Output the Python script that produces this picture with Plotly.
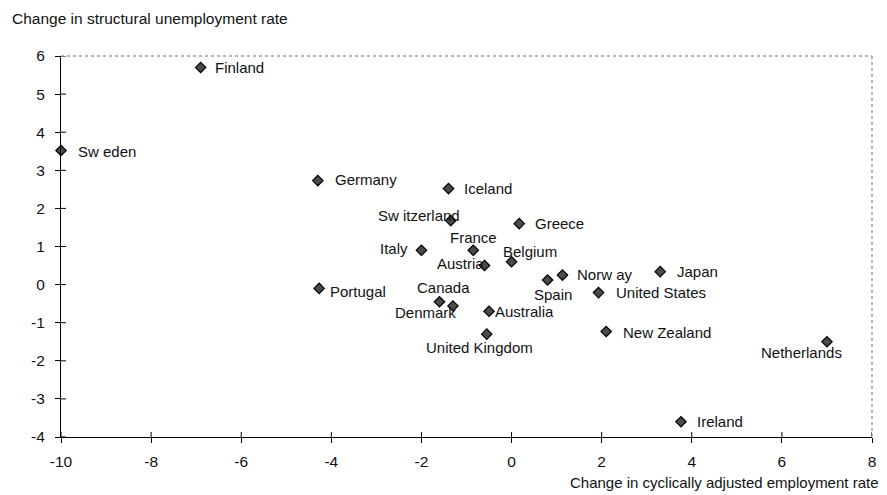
import plotly.graph_objects as go

# Change in cyclically adjusted employment rate vs change in structural unemployment rate
countries = [
    "Finland", "Sw eden", "Germany", "Iceland", "Sw itzerland", "Greece",
    "France", "Italy", "Austria", "Belgium", "Norw ay", "Spain", "Japan",
    "United States", "New Zealand", "Netherlands", "Ireland", "Portugal",
    "Canada", "Denmark", "Australia", "United Kingdom",
]
employment_change = [
    -6.9, -10.0, -4.3, -1.4, -1.35, 0.17,
    -0.85, -2.0, -0.6, 0.0, 1.13, 0.8, 3.3,
    1.93, 2.1, 7.0, 3.76, -4.27,
    -1.6, -1.3, -0.5, -0.55,
]
unemployment_change = [
    5.7, 3.52, 2.73, 2.52, 1.68, 1.6,
    0.9, 0.9, 0.5, 0.6, 0.25, 0.12, 0.34,
    -0.21, -1.23, -1.5, -3.6, -0.1,
    -0.45, -0.56, -0.7, -1.3,
]

x_ticks = list(range(-10, 9, 2))
x_tick_labels = [str(v) for v in x_ticks]
y_ticks = list(range(-4, 7, 1))
y_tick_labels = [str(v) for v in y_ticks]

X_RANGE = [-10, 8]
Y_RANGE = [-4, 6]

# label placement relative to each marker: (pixel dx, pixel dy, horizontal anchor)
label_offsets = {
    "Finland": (12, 0, "left"),
    "Sw eden": (15, -1, "left"),
    "Germany": (15, 1, "left"),
    "Iceland": (14, 0, "left"),
    "Sw itzerland": (11, 5, "right"),
    "Greece": (14, 0, "left"),
    "France": (0, 13, "center"),
    "Italy": (-11, 2, "right"),
    "Austria": (1, 2, "right"),
    "Belgium": (-11, 10, "left"),
    "Norw ay": (13, 1, "left"),
    "Spain": (5, -14, "center"),
    "Japan": (15, 0, "left"),
    "United States": (15, 0, "left"),
    "New Zealand": (15, -1, "left"),
    "Netherlands": (-25, -11, "center"),
    "Ireland": (14, 0, "left"),
    "Portugal": (9, -3, "left"),
    "Canada": (4, 14, "center"),
    "Denmark": (-27, -7, "center"),
    "Australia": (4, 0, "left"),
    "United Kingdom": (-7, -13, "center"),
}

FONT = "Liberation Sans, Arial, Helvetica, sans-serif"
INK = "#111111"
TICK_LEN = 5

fig = go.Figure()
fig.add_trace(go.Scatter(
    x=employment_change,
    y=unemployment_change,
    mode="markers",
    marker=dict(symbol="diamond", size=8, color="#4a4a4a",
                line=dict(color="#000000", width=1.2)),
    cliponaxis=False,
    hoverinfo="text",
    text=countries,
    showlegend=False,
))

annotations = []
for name, xv, yv in zip(countries, employment_change, unemployment_change):
    dx, dy, anchor = label_offsets[name]
    annotations.append(dict(
        x=xv, y=yv, xref="x", yref="y", text=name, showarrow=False,
        xanchor=anchor, yanchor="middle", xshift=dx, yshift=dy,
        font=dict(family=FONT, size=15, color=INK),
    ))

annotations.append(dict(
    x=-61 / 815, y=1 + 38 / 381, xref="paper", yref="paper", xshift=10,
    text="Change in structural unemployment rate",
    showarrow=False, xanchor="left", yanchor="middle",
    font=dict(family=FONT, size=15.5, color=INK),
))
annotations.append(dict(
    x=1.0, y=-0.115, xref="paper", yref="paper",
    text="Change in cyclically adjusted employment rate",
    showarrow=False, xanchor="right", yanchor="middle", xshift=9, yshift=-2,
    font=dict(family=FONT, size=15, color=INK),
))

# inner halves of the crossing tick marks (outer halves come from the axes)
shapes = []
for xv in x_ticks:
    shapes.append(dict(type="line", xref="x", yref="y", ysizemode="pixel",
                       yanchor=Y_RANGE[0], x0=xv, x1=xv, y0=0, y1=TICK_LEN,
                       line=dict(color="#000000", width=1)))
for yv in y_ticks:
    shapes.append(dict(type="line", xref="x", yref="y", xsizemode="pixel",
                       xanchor=X_RANGE[0], y0=yv, y1=yv, x0=0, x1=TICK_LEN,
                       line=dict(color="#000000", width=1)))
# dotted top and right frame edges
shapes.append(dict(type="line", xref="paper", yref="paper", x0=0, x1=1,
                   y0=1, y1=1, line=dict(color="#6f6f6f", width=1, dash="dot")))
shapes.append(dict(type="line", xref="paper", yref="paper", x0=1, x1=1,
                   y0=0, y1=1, line=dict(color="#6f6f6f", width=1, dash="dot")))

axis_common = dict(showgrid=False, zeroline=False, showline=True,
                   linecolor="#000000", linewidth=1, tickcolor="#000000",
                   ticklen=TICK_LEN, tickwidth=1, ticks="outside",
                   tickfont=dict(family=FONT, size=15.5, color=INK))

fig.update_layout(
    width=887, height=495,
    margin=dict(l=61, r=11, t=56, b=58),
    paper_bgcolor="white", plot_bgcolor="white",
    font=dict(family=FONT, color=INK),
    xaxis=dict(range=X_RANGE, tickmode="array", tickvals=x_ticks,
               ticktext=x_tick_labels, ticklabelstandoff=5, **axis_common),
    yaxis=dict(range=Y_RANGE, tickmode="array", tickvals=y_ticks,
               ticktext=y_tick_labels, ticklabelstandoff=7, **axis_common),
    annotations=annotations,
    shapes=shapes,
)

fig.write_html("out.html")
